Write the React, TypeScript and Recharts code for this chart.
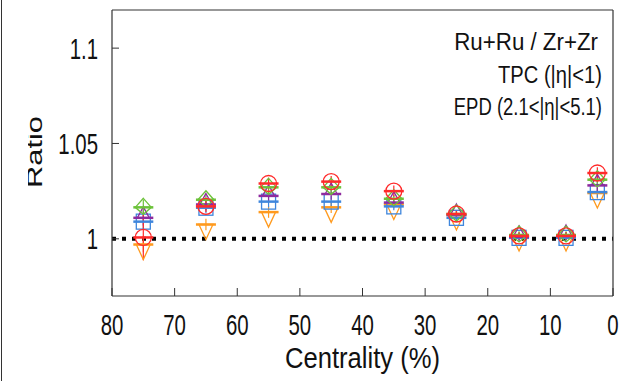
import { ScatterChart, Scatter, XAxis, YAxis, ReferenceLine, ErrorBar } from "recharts";

// centrality bin centres (%)
const centrality = [75, 65, 55, 45, 35, 25, 15, 7.5, 2.5];
const xTicks = [0, 10, 20, 30, 40, 50, 60, 70, 80];
const yTicks = [1, 1.05, 1.1];

// Ru+Ru / Zr+Zr ratios
const redCircle = [1.0007, 1.017, 1.029, 1.030, 1.025, 1.013, 1.0015, 1.0015, 1.0345];
const greenDiamond = [1.0165, 1.0205, 1.027, 1.027, 1.021, 1.013, 1.002, 1.002, 1.031];
const purpleTriangle = [1.011, 1.018, 1.0225, 1.0235, 1.019, 1.0125, 1.001, 1.0015, 1.028];
const blueSquare = [1.009, 1.0163, 1.0195, 1.0195, 1.017, 1.011, 1.0005, 1.0005, 1.0245];
const orangeTriangle = [0.997, 1.0075, 1.014, 1.0165, 1.018, 1.0125, 1.0015, 1.0015, 1.024];
const redErr = [0.012, 0.003, 0.003, 0.003, 0.003, 0.002, 0.002, 0.002, 0.003];
const otherErr = [0.004, 0.003, 0.003, 0.003, 0.002, 0.002, 0.002, 0.002, 0.003];

const toData = (vals: number[], errs: number[]) =>
  centrality.map((x, i) => ({ x, y: vals[i], err: errs[i] }));

type Kind = "circle" | "diamond" | "up" | "square" | "down";

const makeShape = (kind: Kind, color: string) => (props: any) => {
  const { cx, cy } = props;
  if (cx == null || cy == null) return <g />;
  let mark;
  if (kind === "circle") mark = <circle cx={cx} cy={cy} r={8} />;
  else if (kind === "diamond")
    mark = <polygon points={`${cx},${cy - 9} ${cx + 8},${cy} ${cx},${cy + 7} ${cx - 8},${cy}`} />;
  else if (kind === "up")
    mark = <polygon points={`${cx},${cy - 11} ${cx + 6},${cy} ${cx - 6},${cy}`} />;
  else if (kind === "down")
    mark = <polygon points={`${cx - 7},${cy} ${cx + 7},${cy} ${cx},${cy + 15}`} />;
  else mark = <rect x={cx - 7} y={cy - 7.5} width={14} height={15} />;
  return (
    <g stroke={color} fill="none">
      <g strokeWidth={1.3}>{mark}</g>
      <line x1={cx - 10} x2={cx + 10} y1={cy} y2={cy} strokeWidth={2.5} />
    </g>
  );
};

const series = [
  { name: "orange", kind: "down" as Kind, color: "#ff9a1e", vals: orangeTriangle, errs: otherErr },
  { name: "blue", kind: "square" as Kind, color: "#3f86dc", vals: blueSquare, errs: otherErr },
  { name: "purple", kind: "up" as Kind, color: "#8e2a9e", vals: purpleTriangle, errs: otherErr },
  { name: "green", kind: "diamond" as Kind, color: "#6cc23a", vals: greenDiamond, errs: otherErr },
  { name: "red", kind: "circle" as Kind, color: "#ff2a2a", vals: redCircle, errs: redErr },
];

const font = "'Liberation Sans', Arial, sans-serif";

const XTick = (props: any) => {
  const { x, y, payload } = props;
  return (
    <text
      transform={`translate(${x},${y + 47}) scale(0.68,1)`}
      textAnchor="middle"
      fontSize={30}
      fontFamily={font}
      fill="#111"
    >
      {payload.value}
    </text>
  );
};

const YTick = (props: any) => {
  const { x, y, payload } = props;
  return (
    <text
      transform={`translate(${x},${y + 10.5}) scale(0.68,1)`}
      textAnchor="end"
      fontSize={30}
      fontFamily={font}
      fill="#111"
    >
      {payload.value}
    </text>
  );
};

export default function App() {
  return (
    <div style={{ position: "absolute", left: 0, top: 0, width: 623, height: 381, background: "#fff", overflow: "hidden" }}>
      <div style={{ position: "absolute", left: 1, top: 0, width: 1, height: 381, background: "#333" }} />
      <ScatterChart width={623} height={381} margin={{ top: 0, right: 0, bottom: 0, left: 0 }}>
        <XAxis
          xAxisId="b"
          type="number"
          dataKey="x"
          domain={[0, 80]}
          reversed
          ticks={xTicks}
          height={85}
          tickSize={-8}
          tickMargin={0}
          axisLine={{ stroke: "#333", strokeWidth: 1.2 }}
          tickLine={{ stroke: "#333" }}
          tick={<XTick />}
          allowDataOverflow
        />
        <XAxis
          xAxisId="t"
          type="number"
          orientation="top"
          domain={[0, 80]}
          reversed
          ticks={xTicks}
          height={10}
          tickSize={-8}
          axisLine={{ stroke: "#333", strokeWidth: 1.2 }}
          tickLine={{ stroke: "#333" }}
          tick={false}
          allowDataOverflow
        />
        <YAxis
          yAxisId="l"
          type="number"
          dataKey="y"
          domain={[0.97, 1.12]}
          ticks={yTicks}
          width={112}
          tickSize={-7}
          tickMargin={21}
          axisLine={{ stroke: "#333", strokeWidth: 1.2 }}
          tickLine={{ stroke: "#333" }}
          tick={<YTick />}
          allowDataOverflow
        />
        <YAxis
          yAxisId="r"
          type="number"
          orientation="right"
          domain={[0.97, 1.12]}
          ticks={yTicks}
          width={10}
          tickSize={-7}
          axisLine={{ stroke: "#333", strokeWidth: 1.2 }}
          tickLine={{ stroke: "#333" }}
          tick={false}
          allowDataOverflow
        />
        <ReferenceLine
          xAxisId="b"
          yAxisId="l"
          y={1}
          stroke="#000"
          strokeWidth={4}
          strokeDasharray="4 6"
        />
        {series.map((s) => (
          <Scatter
            key={s.name}
            xAxisId="b"
            yAxisId="l"
            data={toData(s.vals, s.errs)}
            shape={makeShape(s.kind, s.color)}
            isAnimationActive={false}
          >
            <ErrorBar dataKey="err" direction="y" width={0} stroke={s.color} strokeWidth={1.2} />
          </Scatter>
        ))}
      </ScatterChart>
      <svg
        width={623}
        height={381}
        style={{ position: "absolute", left: 0, top: 0, pointerEvents: "none" }}
        fontFamily={font}
        fill="#111"
      >
        <defs>
          <clipPath id="ratioClip">
            <rect x={28} y={0} width={40} height={381} />
          </clipPath>
        </defs>
        <g clipPath="url(#ratioClip)">
          <text
            transform="translate(42,152) rotate(-90) scale(1.4,1)"
            textAnchor="middle"
            fontSize={22}
          >
            Ratio
          </text>
        </g>
        <text x={285} y={368} fontSize={30} textLength={155} lengthAdjust="spacingAndGlyphs">
          Centrality (%)
        </text>
        <text transform="translate(598,50) scale(0.93,1)" textAnchor="end" fontSize={24}>
          Ru+Ru / Zr+Zr
        </text>
        <text transform="translate(602,83) scale(0.84,1)" textAnchor="end" fontSize={24}>
          TPC (|η|&lt;1)
        </text>
        <text transform="translate(602,115) scale(0.77,1)" textAnchor="end" fontSize={24}>
          EPD (2.1&lt;|η|&lt;5.1)
        </text>
      </svg>
    </div>
  );
}
